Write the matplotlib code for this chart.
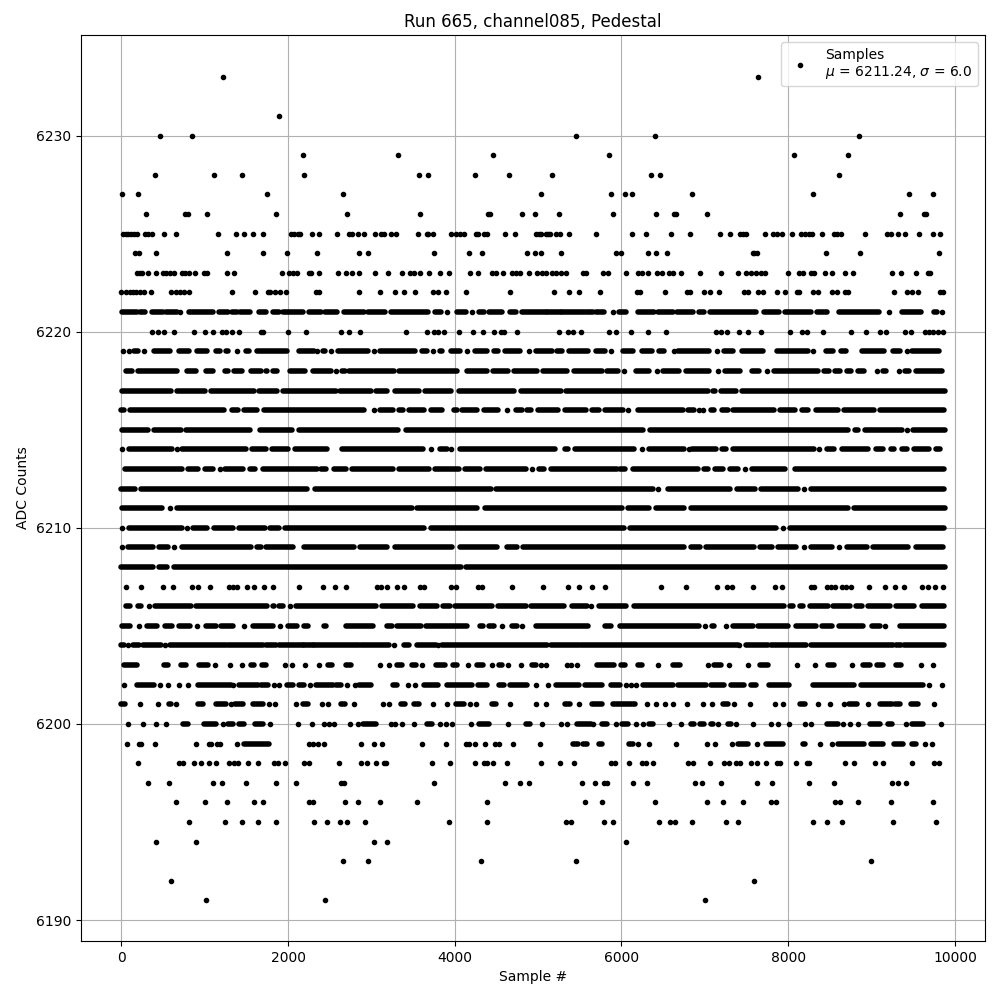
import matplotlib
matplotlib.use('Agg')
import matplotlib.pyplot as plt

# samples read off per ADC level: a number is one dot, a tuple is a run of
# dots that overlap so much they can only be read as start/end
row_6233 = [1218, 7632]
row_6231 = [1888]
row_6230 = [463, 846, 5460, 6396, 8844]
row_6229 = [2176, 3325, 4463, 5856, 8064, 8712]
row_6228 = [403, 1110, 1445, 2188, 3577, 3685, 4248, 4655, 5172, 6348, 6456, 8604]
row_6227 = [8, 200, 1745, 2655, 5040, 5880, 6036, 6120, 6840, 8292, 9444, 9732]
row_6226 = [295, 762, 798, 1026, 1852, 2703, 3589, 4395, 4423, 4810, 4968, 5256, 5904,
            6408, 6628, 6652, 7020, 9336, 9628, 9652]
row_6225 = [20, 52, 84, 116, 148, 184, 283, 315, 367, 507, 655, 1158, 1373, 1469, 1581, 1697,
            2032, 2076, 2120, 2148, 2283, 2367, 2583, 2731, 2763, 2834, 2906, 3046, 3114,
            3154, 3234, 3301, 3565, 3665, 3685, 3745, 3960, 4012, 4060, 4112, 4252, 4276,
            4351, 4391, 4607, 4727, 4972, 5012, 5036, 5092, 5124, 5148, 5212, 5268, 5376,
            5700, 6120, 6288, 6588, 6816, 7176, 7296, 7416, 7452, 7492, 7716, 7812, 7860,
            7920, 8040, 8148, 8196, 8244, 8280, 8400, 8544, 8580, 8628, 8916, 9180, 9228,
            9312, 9400, 9564, 9732, 9820]
row_6224 = [168, 212, 415, 1265, 1697, 1984, 2343, 2846, 2954, 3757, 4176, 4331, 4862, 4968,
            5032, 5280, 5940, 6000, 6312, 6408, 6540, 7572, 7590, 7620, 8448, 8856, 9804]
row_6223 = [188, 220, 252, 319, 415, 499, 539, 587, 627, 731, 770, 818, 886, 998, 1026, 1265,
            1349, 1924, 2008, 2056, 2104, 2248, 2275, 2371, 2595, 2691, 2763, 2846, 3038,
            3194, 3373, 3461, 3513, 3581, 3697, 3828, 3936, 4188, 4283, 4451, 4499, 4579,
            4691, 4739, 4779, 4894, 4992, 5044, 5092, 5164, 5212, 5272, 5332, 5540, 5572,
            5784, 5844, 6048, 6192, 6240, 6316, 6420, 6480, 6572, 6620, 6708, 6944, 7188,
            7392, 7492, 7552, 7612, 7672, 7720, 7992, 8124, 8172, 8268, 8308, 8436, 8520,
            8676, 8772, 9244, 9352, 9528, 9672, 9704]
row_6222 = [0, 52, 100, 140, 180, 228, 267, 355, 599, 651, 699, 758, 818, 1325, 1601, 1756,
            1784, 1840, 1904, 1972, 2335, 2375, 2846, 3098, 3289, 3389, 3529, 3745, 3804,
            3892, 4140, 4667, 5196, 5376, 5496, 5748, 6180, 6220, 6516, 6780, 6820, 6984,
            7056, 7164, 7464, 7512, 7632, 7692, 7860, 7956, 8100, 8132, 8292, 8356, 8520,
            8580, 8676, 8712, 9264, 9424, 9484, 9556, 9820, 9860]
row_6221 = [(12, 188), (220, 287), (371, 499), (539, 667), 699, (818, 1098), (1178, 1277),
            (1329, 1385), (1425, 1545), (1657, 1737), (1824, 1896), (1944, 2176), (2255, 2395),
            (2447, 2591), (2675, 2914), (2954, 3166), (3234, 3685), (3761, 3832), 3904,
            (4032, 4132), 4204, (4291, 4351), (4411, 4563), (4659, 4739), (4810, 5092),
            (5112, 5272), (5292, 5552), (5580, 5660), (5692, 5792), 5904, (5972, 6052),
            (6192, 6392), (6432, 6620), (6660, 6852), (6932, 6992), (7060, 7612), (7712, 7892),
            (7964, 8272), (8340, 8460), (8612, 9092), 9204, (9364, 9592), (9752, 9780), 9844]
row_6220 = [371, 443, 511, 631, 870, 1010, 1098, 1206, 1257, 1325, 1417, 1677, 1697, 1996, 2212,
            2635, 2735, 2858, 3421, 3673, 3753, 3804, 3876, 4056, 4224, 4343, 4475, 4551, 4595,
            4751, 5252, 5364, 5420, 5512, 5856, 5940, 6108, 6312, 6532, 7128, 7192, 7260, 7404,
            7512, 7672, 8024, 8160, 8220, 8416, 8748, 8928, 9096, 9168, 9400, 9472, 9636, 9692,
            9740, 9792, 9852]
row_6219 = [20, 92, (148, 200), 272, (388, 584), (696, 812), (908, 1032), (1136, 1184), (1260, 1280),
            1388, (1496, 1532), (1628, 1992), (2136, 2312), 2348, (2420, 2444), 2516, (2600, 2960),
            3028, (3100, 3524), (3612, 3672), 3744, (3820, 3844), (3960, 4064), 4152, (4240, 4384),
            (4468, 4524), (4600, 4784), 4896, (4980, 5164), (5228, 5284), (5372, 5604), (5700, 5804),
            5872, (6020, 6136), (6240, 6364), (6452, 6512), 6624, (6672, 7044), 7140, (7228, 7332),
            (7448, 7692), (7868, 8232), 8300, (8448, 8532), (8628, 8692), (8888, 9152), (9260, 9344),
            9420, (9488, 9804)]
row_6218 = [(56, 132), (200, 664), (788, 892), (1016, 1104), (1244, 1280), (1356, 1444), (1556, 1672),
            (1740, 1752), (1816, 1872), (2028, 2200), (2300, 2512), 2576, (2648, 2680), (2728, 3268),
            (3328, 4032), (4152, 4384), (4460, 4644), (4712, 4984), (5064, 5344), (5432, 5764),
            (5832, 5964), 6032, (6168, 6324), 6428, (6500, 6692), (6768, 7044), 7156, (7240, 7416),
            (7568, 7652), 7748, (7828, 8352), (8428, 8492), (8560, 8620), (8708, 8752), (8836, 8912),
            9068, (9140, 9172), 9328, (9400, 9444), (9528, 9840)]
row_6217 = [(8, 600), (668, 1000), (1080, 1592), (1656, 1872), (1940, 2572), (2628, 2992), (3056, 3192),
            (3288, 3572), (3640, 3952), (4056, 4712), (4800, 5272), (5340, 7040), (7096, 7120),
            (7196, 7372), (7448, 9880)]
row_6216 = [(0, 32), (108, 1232), (1328, 1400), (1476, 1632), (1712, 2912), 3028, (3108, 3256), (3328, 3376),
            (3448, 3636), (3712, 3844), (3996, 4024), (4092, 4272), (4348, 4516), 4632, (4740, 4804),
            (4872, 4912), (5004, 5244), (5320, 5572), (5652, 5736), (5808, 6016), 6072, (6192, 6732),
            (6800, 6864), 6924, 6976, (7068, 7104), (7200, 7272), (7340, 7824), (7896, 8080), (8168, 8232),
            (8336, 8592), (8672, 9024), (9104, 9864)]
row_6215 = [(8, 320), (388, 712), (776, 1544), (1660, 2052), (2128, 3324), (3420, 6252), (6340, 8720),
            (8796, 8832), (8920, 9360), 9428, (9496, 9880)]
row_6214 = [8, (96, 612), 668, (728, 1492), (1568, 1732), (1808, 2004), (2088, 2472), (2648, 3624), 3720,
            (3820, 3904), 3960, (4060, 5204), (5320, 5364), (5448, 6144), 6240, (6328, 6752), 6804,
            (6840, 7132), (7208, 7252), (7340, 8312), 8372, (8468, 8552), (8640, 8952), (9048, 9132),
            (9228, 9264), (9360, 9420), (9512, 9692), (9776, 9820)]
row_6213 = [(40, 732), (800, 920), (1008, 1104), 1184, (1248, 1464), (1548, 1604), (1700, 2344), (2396, 2460),
            (2552, 2692), (2768, 3256), (3328, 3696), (3768, 4056), (4128, 4304), (4380, 4852), 4928,
            (5008, 5072), (5152, 5952), (5980, 6044), (6140, 6912), (6988, 7032), (7116, 7220), (7296, 7400),
            7484, (7560, 7964), (8076, 9864)]
row_6212 = [(0, 164), (240, 2224), (2328, 4432), (4500, 6372), 6432, (6552, 7304), (7388, 7600), (7668, 8120),
            8188, (8268, 9864)]
row_6211 = [(8, 492), 580, (668, 3484), (3552, 4272), (4360, 6012), (6072, 6324), (6408, 6752), (6828, 8712),
            (8788, 9880)]
row_6210 = [8, (96, 732), 788, (856, 1032), (1108, 1344), (1416, 1720), (1788, 1892), (1960, 3636), (3720, 6032),
            (6100, 7852), 7940, (8016, 9864)]
row_6209 = [8, (80, 384), (456, 564), 632, (728, 1552), (1628, 1672), (1740, 2064), (2196, 2792), (2868, 3192),
            (3280, 3972), (4068, 4504), (4632, 4744), (4824, 6744), (6828, 6940), (7008, 7584), (7656, 7800),
            (7880, 8092), 8192, (8268, 8520), 8612, (8708, 8944), (9020, 9432), (9528, 9852)]
row_6208 = [(0, 384), (456, 552), (628, 4072), (4140, 9880)]
row_6207 = [60, 236, 500, 620, 852, 924, 1064, 1292, 1340, 1388, 1508, 1592, 1712, 1816, 2132, 2420, 2560, 2696,
            3068, 3120, 3188, 3312, 3396, 3584, 3632, 3960, 4012, 4280, 4324, 4684, 5064, 5364, 5496, 5652,
            5808, 6468, 6768, 7148, 7268, 7320, 7580, 7844, 7928, 8268, 8312, 8460, 8508, 8560, 8640, 8688,
            8756, 8972, 9164, 9284, 9392, 9600, 9680, 9760, 9860]
row_6206 = [(56, 104), (200, 240), 332, (408, 832), (896, 1752), (1824, 1832), (1888, 1944), 2020, (2096, 3052),
            (3128, 3504), (3580, 3784), (3860, 3944), (4008, 4444), (4520, 4852), (4920, 5312), (5408, 5584),
            5636, (5728, 6056), (6148, 7952), (8016, 8052), (8136, 8172), (8256, 8472), (8540, 8740), (8808, 8884),
            (8960, 9220), (9288, 9504), (9600, 9864)]
row_6205 = [(8, 104), 212, (308, 432), (528, 612), (696, 824), 908, (1016, 1132), (1200, 1344), 1472, (1580, 1824),
            1904, (2000, 2112), (2188, 2244), (2428, 2460), (2696, 3024), (3188, 3244), (3312, 3592), (3660, 4144),
            (4300, 4336), (4408, 4476), 4572, (4688, 4744), 4812, (4980, 5604), (5808, 5872), (5984, 6932), 7000,
            (7088, 7112), 7248, (7340, 7572), (7640, 7992), (8096, 8332), (8408, 8524), (8608, 8900), (9008, 9100),
            9164, (9336, 9872)]
row_6204 = [(0, 28), 80, (140, 212), (259, 479), 523, (587, 1257), (1277, 1705), (1737, 1856), (1896, 2176),
            (2196, 2295), (2315, 2854), (2874, 3214), 3274, (3393, 3453), (3553, 3773), 3796, (3852, 5112),
            (5152, 5492), (5520, 7392), 7412, (7492, 7752), (7792, 8212), (8272, 9252), (9292, 9352), (9392, 9872)]
row_6203 = [(28, 192), (507, 559), (719, 778), (930, 1038), 1122, 1309, 1445, (1557, 1597), (1685, 1737), 1960,
            2048, 2200, 2367, (2475, 2527), (2695, 2754), 3098, 3206, (3313, 3373), (3493, 3533), 3613, (3780, 3884),
            (3980, 4032), 4164, (4271, 4339), 4451, (4531, 4571), 4643, 4798, (4930, 4978), 5032, 5100, 5352, 5392,
            5472, (5704, 5912), (5992, 6044), (6192, 6244), 6432, (6612, 6700), 7032, (7112, 7192), 7284, 7512,
            (7660, 7752), 8100, 8316, (8480, 8552), 8760, (8892, 8980), (9060, 9132), (9292, 9352), 9588, 9732]
row_6202 = [32, (188, 387), 463, 559, 687, 798, (918, 1317), 1345, (1417, 1637), (1677, 1757), 1832, 1896, (1984, 2056),
            (2136, 2196), 2259, (2335, 2535), (2575, 2635), 2703, 2802, (2854, 2994), (3261, 3313), 3441, 3521,
            (3633, 3804), (3912, 4204), (4279, 4391), (4531, 4591), (4659, 4870), 4980, 5124, (5212, 5492), (5564, 5772),
            (5872, 5980), 6052, 6112, 6172, (6252, 6612), (6672, 7012), (7072, 7232), (7312, 7472), (7552, 7612),
            (7772, 8012), (8292, 8792), (8872, 9612), 9692, 9844]
row_6201 = [(0, 44), 224, 439, (567, 599), 655, (918, 986), (1138, 1257), 1317, (1369, 1457), (1577, 1697), 1768, 1840,
            2092, (2184, 2235), 2403, 2475, (2635, 2679), 2786, 3134, 3206, (3353, 3405), (3513, 3573), 3745, 3912,
            (4012, 4112), 4184, 4252, (4451, 4491), 4667, 4980, 5100, (5324, 5384), 5496, (5652, 5764), (5904, 6164),
            6300, 6408, 6516, 6612, 6780, 6972, 7080, (7220, 7276), 7344, 7536, 7836, 7932, (8136, 8196), 8352, 8496,
            8664, (8732, 8820), 8952, (9100, 9244), (9284, 9340), (9472, 9552), 9744]
row_6200 = [80, 259, 415, 535, (739, 798), (998, 1138), 1218, (1277, 1345), (1409, 1473), (1609, 1705), 1784, 2124, 2283,
            2427, 2495, 2555, 2739, 2834, (2902, 3054), 3234, 3281, 3373, 3513, (3673, 3733), 3820, 3900, 3964, 4200,
            (4291, 4411), 4643, (4850, 4898), 5052, 5280, 5352, (5472, 5632), 5664, (5764, 5832), 5932, (6012, 6076),
            6172, 6252, (6332, 6380), 6564, 6708, (6832, 6872), (6940, 6992), (7072, 7100), 7156, (7272, 7312), 7372,
            7572, 7792, 7872, 8004, 8204, 8268, (8464, 8592), 8652, 8736, 8840, (8980, 9100), (9196, 9244), 9412,
            (9480, 9612), 9828]
row_6199 = [68, 212, 240, 403, 894, 1050, 1074, 1154, 1186, 1385, (1477, 1777), 2247, 2295, 2355, 2427, 2870, 3026, 3122,
            3613, 3900, 4132, 4172, 4240, 4367, 4479, 4531, 4703, 5028, (5420, 5476), (5540, 5592), (5732, 5772),
            (6084, 6132), 6192, 6324, 6648, 7020, 7116, 7320, (7392, 7512), 7620, (7732, 7932), (8172, 8204), 8376,
            8520, (8592, 8904), (8992, 9132), (9272, 9372), (9480, 9532), 9644, 9720]
row_6198 = [200, 691, 739, 870, 954, 1050, 1134, 1297, 1357, 1397, 1517, 1645, 1836, 1884, 1968, 2188, 2247, 2607, 2870,
            2942, 3050, 3146, 3174, 3733, 3948, 4248, 4351, 4391, 4463, 4631, 5040, 5268, 5436, 5880, 5920, 6084, 6240,
            6292, 6372, 6792, 6852, 7056, 7232, 7284, 7372, 7420, 7548, 7620, 7728, 7860, 7900, 8088, 8220, 8252, 8676,
            8784, 9036, 9132, 9480, 9744, 9804]
row_6197 = [319, 571, 1098, 1206, 1493, 1852, 2092, 2631, 2667, 3757, 4607, 4786, 4894, 5532, 5688, 5796, 5832, 6132, 6300,
            6876, 6960, 7188, 7620, 7800, 8244, 8544, 9240, 9312, 9408]
row_6196 = [655, 1002, 1265, 1589, 1697, 2247, 2295, 2679, 2834, 3098, 3553, 4391, 5568, 5772, 6396, 7020, 7212, 7452, 7788,
            7848, 8560, 8620, 8832, 9228, 9732]
row_6195 = [810, 1241, 1445, 1637, 1852, 2307, 2463, 2619, 2703, 2918, 3936, 4391, 5340, 5400, 5796, 5904, 6444, 6576, 6636,
            6840, 7248, 7392, 8292, 8460, 8640, 9252, 9768]
row_6194 = [415, 894, 3026, 3182, 6048]
row_6193 = [2655, 2954, 4319, 5460, 8988]
row_6192 = [595, 7584]
row_6191 = [1014, 2439, 6996]

levels = [6233, 6231, 6230, 6229, 6228, 6227, 6226, 6225, 6224, 6223, 6222, 6221, 6220, 6219, 6218, 6217,
          6216, 6215, 6214, 6213, 6212, 6211, 6210, 6209, 6208, 6207, 6206, 6205, 6204, 6203, 6202, 6201,
          6200, 6199, 6198, 6197, 6196, 6195, 6194, 6193, 6192, 6191]
rows = [row_6233, row_6231, row_6230, row_6229, row_6228, row_6227, row_6226, row_6225, row_6224, row_6223,
        row_6222, row_6221, row_6220, row_6219, row_6218, row_6217, row_6216, row_6215, row_6214, row_6213,
        row_6212, row_6211, row_6210, row_6209, row_6208, row_6207, row_6206, row_6205, row_6204, row_6203,
        row_6202, row_6201, row_6200, row_6199, row_6198, row_6197, row_6196, row_6195, row_6194, row_6193,
        row_6192, row_6191]

xs = []
ys = []
run_y = []
run_start = []
run_end = []
for level, row in zip(levels, rows):
    for item in row:
        if isinstance(item, tuple):
            run_y.append(level)
            run_start.append(item[0])
            run_end.append(item[1])
        else:
            xs.append(item)
            ys.append(level)

fig, ax = plt.subplots(figsize=(10, 10))
ax.plot(xs, ys, '.', color='black', label='Samples\n$\\mu$ = 6211.24, $\\sigma$ = 6.0')
ax.hlines(run_y, run_start, run_end, color='black', linewidth=4, capstyle='round', zorder=2)
ax.set_xlim(-483, 10360)
ax.set_ylim(6188.93, 6235.13)
ax.set_title('Run 665, channel085, Pedestal')
ax.set_xlabel('Sample #')
ax.set_ylabel('ADC Counts')
ax.grid(True)
ax.legend(loc='upper right')
fig.subplots_adjust(left=0.081, right=0.985, top=0.965, bottom=0.059)
fig.savefig('out.png', dpi=100)
